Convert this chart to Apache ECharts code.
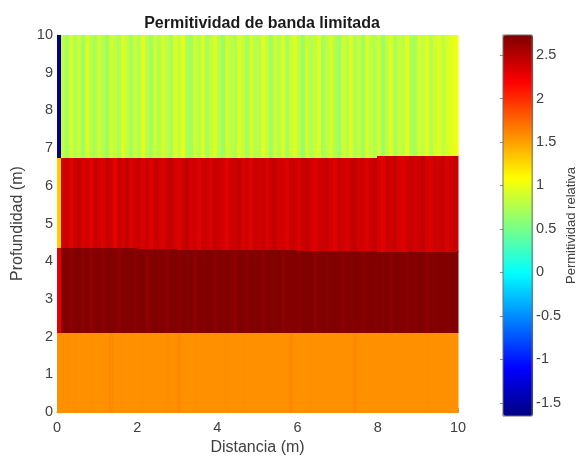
<!DOCTYPE html>
<html>
<head>
<meta charset="utf-8">
<script src="https://cdn.jsdelivr.net/npm/echarts@6/dist/echarts.min.js"></script>
<style>
  html, body { margin: 0; padding: 0; background: #fff; }
  #chart { width: 579px; height: 461px; }
</style>
</head>
<body>
<div id="chart"></div>
<script>
// Band-limited relative permittivity section: distance (m) vs depth (m)

// Trace spacing along the profile (m) and number of traces
const traceStep = 0.1;
const traceCount = 100;

// Layer interfaces (depth in m), one value per metre of distance
const orangeTop = [2.10, 2.10, 2.10, 2.10, 2.10, 2.12, 2.11, 2.10, 2.10, 2.10];
const darkTop   = [4.36, 4.36, 4.34, 4.32, 4.30, 4.30, 4.29, 4.28, 4.27, 4.27];
const redTop    = [6.76, 6.76, 6.76, 6.76, 6.76, 6.76, 6.76, 6.76, 6.80, 6.80];

// Relative permittivity per trace, deepest layer first
const layerBottom = [
  1.56, 1.56, 1.57, 1.56, 1.58, 1.56, 1.56, 1.56, 1.57, 1.56,
  1.56, 1.56, 1.56, 1.60, 1.56, 1.56, 1.57, 1.56, 1.56, 1.56,
  1.56, 1.57, 1.56, 1.56, 1.56, 1.56, 1.56, 1.58, 1.56, 1.56,
  1.60, 1.56, 1.56, 1.56, 1.57, 1.56, 1.56, 1.56, 1.56, 1.56,
  1.56, 1.56, 1.58, 1.56, 1.56, 1.56, 1.57, 1.56, 1.56, 1.56,
  1.56, 1.56, 1.56, 1.56, 1.56, 1.56, 1.56, 1.56, 1.60, 1.56,
  1.56, 1.56, 1.56, 1.57, 1.56, 1.56, 1.56, 1.56, 1.56, 1.56,
  1.56, 1.56, 1.56, 1.56, 1.60, 1.56, 1.56, 1.56, 1.56, 1.56,
  1.56, 1.56, 1.56, 1.56, 1.56, 1.56, 1.56, 1.56, 1.56, 1.56,
  1.56, 1.56, 1.57, 1.56, 1.56, 1.56, 1.56, 1.56, 1.56, 1.56
];
const layerDark = [
  2.30, 2.70, 2.74, 2.67, 2.72, 2.75, 2.69, 2.73, 2.66, 2.71,
  2.74, 2.68, 2.72, 2.75, 2.70, 2.66, 2.73, 2.71, 2.75, 2.69,
  2.72, 2.74, 2.67, 2.71, 2.75, 2.70, 2.73, 2.68, 2.74, 2.72,
  2.69, 2.75, 2.71, 2.73, 2.67, 2.74, 2.70, 2.72, 2.75, 2.68,
  2.73, 2.70, 2.74, 2.71, 2.66, 2.75, 2.72, 2.69, 2.74, 2.71,
  2.75, 2.68, 2.72, 2.74, 2.70, 2.73, 2.67, 2.75, 2.71, 2.73,
  2.69, 2.74, 2.72, 2.75, 2.68, 2.71, 2.74, 2.70, 2.73, 2.75,
  2.72, 2.67, 2.74, 2.70, 2.73, 2.75, 2.69, 2.72, 2.74, 2.71,
  2.75, 2.70, 2.73, 2.68, 2.74, 2.72, 2.75, 2.69, 2.73, 2.71,
  2.74, 2.72, 2.68, 2.75, 2.70, 2.73, 2.74, 2.71, 2.75, 2.72
];
const layerRed = [
  1.30, 2.36, 2.42, 2.32, 2.40, 2.44, 2.34, 2.38, 2.30, 2.42,
  2.37, 2.32, 2.43, 2.39, 2.29, 2.41, 2.36, 2.44, 2.33, 2.38,
  2.42, 2.35, 2.40, 2.31, 2.43, 2.38, 2.34, 2.41, 2.45, 2.37,
  2.33, 2.40, 2.44, 2.36, 2.39, 2.32, 2.42, 2.38, 2.35, 2.43,
  2.40, 2.36, 2.31, 2.42, 2.38, 2.44, 2.35, 2.39, 2.33, 2.41,
  2.37, 2.43, 2.34, 2.40, 2.45, 2.36, 2.38, 2.32, 2.42, 2.39,
  2.35, 2.41, 2.44, 2.37, 2.33, 2.40, 2.38, 2.43, 2.36, 2.31,
  2.42, 2.38, 2.34, 2.41, 2.45, 2.37, 2.39, 2.33, 2.40, 2.44,
  2.36, 2.30, 2.41, 2.38, 2.43, 2.35, 2.32, 2.39, 2.42, 2.37,
  2.40, 2.44, 2.36, 2.33, 2.41, 2.38, 2.43, 2.35, 2.39, 2.42
];
const layerTop = [
  -1.60, 0.83, 0.69, 0.90, 0.75, 0.85, 0.67, 0.93, 0.79, 0.71,
  0.88, 0.77, 0.65, 0.91, 0.81, 0.73, 0.95, 0.83, 0.69, 0.85,
  0.75, 0.97, 0.79, 0.67, 0.87, 0.75, 0.91, 0.81, 0.69, 0.95,
  0.83, 0.99, 0.73, 0.67, 0.87, 0.79, 0.92, 0.71, 0.83, 0.94,
  0.77, 0.65, 0.89, 0.81, 0.73, 0.95, 0.84, 0.69, 0.90, 0.79,
  0.75, 0.97, 0.82, 0.67, 0.87, 0.77, 0.92, 0.71, 0.85, 0.95,
  0.79, 0.65, 0.89, 0.75, 0.82, 0.94, 0.69, 0.80, 0.91, 0.77,
  0.64, 0.87, 0.79, 0.95, 0.73, 0.84, 0.67, 0.92, 0.80, 0.75,
  0.89, 0.65, 0.82, 0.94, 0.71, 0.85, 0.79, 0.97, 0.75, 0.69,
  0.90, 0.82, 0.95, 0.77, 0.87, 0.97, 0.81, 0.92, 0.96, 1.02
];

// Colour scale limits and ticks
const scaleMin = -1.65;
const scaleMax = 2.73;
const scaleTicks = [-1.5, -1, -0.5, 0, 0.5, 1, 1.5, 2, 2.5];

// Build one cell per trace and layer: [x0, x1, yBottom, yTop, value]
const cells = [];
for (let i = 0; i < traceCount; i++) {
  const x0 = i * traceStep;
  const x1 = (i + 1) * traceStep;
  const m = Math.min(9, Math.floor(i * traceStep + 1e-9));
  cells.push([x0, x1, 0, orangeTop[m], layerBottom[i]]);
  cells.push([x0, x1, orangeTop[m], darkTop[m], layerDark[i]]);
  cells.push([x0, x1, darkTop[m], redTop[m], layerRed[i]]);
  cells.push([x0, x1, redTop[m], 10, layerTop[i]]);
}

const jet = ['#000080', '#0000ff', '#0080ff', '#00ffff', '#80ff80',
             '#ffff00', '#ff8000', '#ff0000', '#800000'];

const font = 'Liberation Sans, Arial, Helvetica, sans-serif';
const axisGray = '#8a8a8a';
const textGray = '#404040';

const chart = echarts.init(document.getElementById('chart'), null, { renderer: 'canvas' });

chart.setOption({
  backgroundColor: '#ffffff',
  animation: false,
  title: {
    text: 'Permitividad de banda limitada',
    left: 257, top: 11, textAlign: 'center',
    textStyle: { fontFamily: font, fontSize: 16, fontWeight: 'bold', color: '#1a1a1a' }
  },
  grid: [
    { left: 57, top: 35, width: 401, height: 381, containLabel: false },
    { left: 503, top: 35, width: 30, height: 381, show: true, z: 10,
      borderColor: '#6e6e6e', borderWidth: 1, backgroundColor: 'transparent' }
  ],
  xAxis: [
    {
      type: 'value', gridIndex: 0, min: 0, max: 10, interval: 2,
      name: 'Distancia (m)', nameLocation: 'middle', nameGap: 27,
      nameTextStyle: { fontFamily: font, fontSize: 16, color: textGray },
      axisLine: { show: true, lineStyle: { color: axisGray } },
      axisTick: { show: true, inside: true, length: 4, lineStyle: { color: axisGray } },
      axisLabel: { fontFamily: font, fontSize: 14.5, color: textGray, margin: 8 },
      splitLine: { show: false }
    },
    {
      type: 'value', gridIndex: 1, min: 0, max: 1, show: false
    }
  ],
  yAxis: [
    {
      type: 'value', gridIndex: 0, min: 0, max: 10, interval: 1,
      name: 'Profundidad (m)', nameLocation: 'middle', nameGap: 28, nameRotate: 90,
      nameTextStyle: { fontFamily: font, fontSize: 16, color: textGray },
      axisLine: { show: true, lineStyle: { color: axisGray } },
      axisTick: { show: true, inside: true, length: 4, lineStyle: { color: axisGray } },
      axisLabel: { fontFamily: font, fontSize: 14.5, color: textGray, margin: 4 },
      splitLine: { show: false }
    },
    {
      type: 'value', gridIndex: 1, min: scaleMin, max: scaleMax, position: 'right',
      name: 'Permitividad relativa', nameLocation: 'middle', nameGap: 25, nameRotate: 90,
      nameTextStyle: { fontFamily: font, fontSize: 13, color: textGray },
      axisLine: { show: false },
      axisTick: { show: true, inside: true, length: 3, customValues: scaleTicks,
                  lineStyle: { color: axisGray } },
      axisLabel: { fontFamily: font, fontSize: 14.5, color: textGray, margin: 4,
                   customValues: scaleTicks },
      splitLine: { show: false }
    }
  ],
  visualMap: {
    type: 'continuous',
    seriesIndex: 0,
    dimension: 4,
    min: scaleMin, max: scaleMax,
    calculable: false,
    hoverLink: false,
    orient: 'vertical',
    left: 503, top: 35,
    padding: 0,
    itemWidth: 30, itemHeight: 381,
    inRange: { color: jet },
    textStyle: { fontSize: 0 }
  },
  series: [
    {
      type: 'custom',
      xAxisIndex: 0, yAxisIndex: 0,
      data: cells,
      encode: { x: [0, 1], y: [2, 3] },
      renderItem: function (params, api) {
        const a = api.coord([api.value(0), api.value(3)]);
        const b = api.coord([api.value(1), api.value(2)]);
        const x = Math.floor(a[0]);
        const y = Math.floor(a[1]);
        return {
          type: 'rect',
          shape: { x: x, y: y, width: Math.ceil(b[0]) - x + 0.5, height: Math.ceil(b[1]) - y },
          style: { fill: api.visual('color') }
        };
      }
    }
  ]
});
</script>
</body>
</html>
